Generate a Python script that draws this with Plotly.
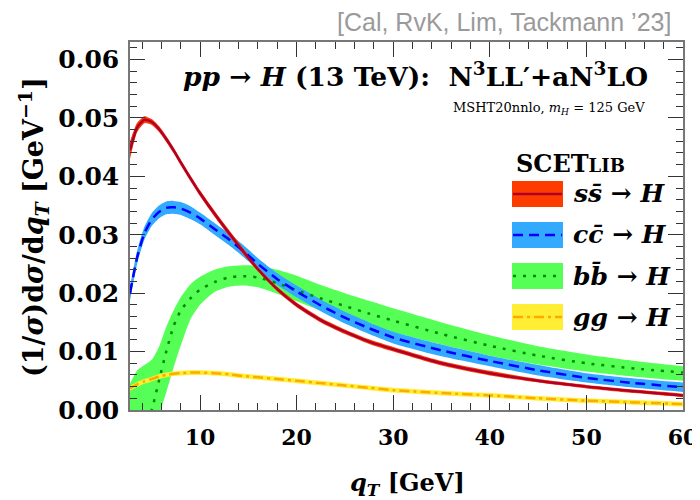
import plotly.graph_objects as go

# ---------------- data ----------------
qT = [2.75, 3.5, 4.25, 5, 5.75, 6.5, 7.25, 8, 9, 10, 11.5, 13, 14.5, 16, 18, 20,
      22.5, 25, 27.5, 30, 35, 40, 45, 50, 55, 60]

ss_c = [0.0445, 0.0484, 0.0497, 0.0493, 0.0481, 0.0464, 0.0445, 0.0424, 0.0397, 0.0371,
        0.0336, 0.0303, 0.0271, 0.0241, 0.0207, 0.0180, 0.0154, 0.0134, 0.0117, 0.0104,
        0.0080, 0.0063, 0.0050, 0.0040, 0.0032, 0.0025]
ss_lo = [0.0430, 0.0476, 0.0491, 0.0488, 0.0476, 0.0459, 0.0440, 0.0419, 0.0392, 0.0366,
         0.0331, 0.0298, 0.0266, 0.0237, 0.0203, 0.0176, 0.0150, 0.0130, 0.0113, 0.0100,
         0.0076, 0.0059, 0.0047, 0.0037, 0.0029, 0.0022]
ss_hi = [0.0460, 0.0492, 0.0503, 0.0498, 0.0486, 0.0469, 0.0450, 0.0429, 0.0402, 0.0376,
         0.0341, 0.0308, 0.0276, 0.0245, 0.0211, 0.0184, 0.0158, 0.0138, 0.0121, 0.0108,
         0.0084, 0.0067, 0.0053, 0.0043, 0.0035, 0.0028]

cc_c = [0.0200, 0.0262, 0.0303, 0.0326, 0.0339, 0.0346, 0.0347, 0.0345, 0.0338, 0.0328,
        0.0310, 0.0292, 0.0272, 0.0250, 0.0224, 0.0203, 0.0179, 0.0158, 0.0140, 0.0124,
        0.0102, 0.0084, 0.0068, 0.0055, 0.0046, 0.0039]
cc_lo = [0.0188, 0.0251, 0.0292, 0.0315, 0.0328, 0.0335, 0.0336, 0.0334, 0.0327, 0.0318,
         0.0300, 0.0282, 0.0262, 0.0240, 0.0214, 0.0193, 0.0169, 0.0148, 0.0130, 0.0114,
         0.0092, 0.0075, 0.0059, 0.0047, 0.0038, 0.0031]
cc_hi = [0.0212, 0.0273, 0.0314, 0.0337, 0.0350, 0.0357, 0.0358, 0.0356, 0.0349, 0.0338,
         0.0320, 0.0302, 0.0282, 0.0260, 0.0234, 0.0213, 0.0189, 0.0168, 0.0150, 0.0134,
         0.0112, 0.0093, 0.0077, 0.0063, 0.0054, 0.0047]

bb_c = [-0.0080, -0.0060, -0.0035, 0.0000, 0.0050, 0.0100, 0.0143, 0.0170, 0.0191, 0.0206,
        0.0219, 0.0227, 0.0229, 0.0227, 0.0217, 0.0205, 0.0191, 0.0178, 0.0165, 0.0153,
        0.0130, 0.0110, 0.0093, 0.0080, 0.0071, 0.0064]
bb_lo = [-0.0200, -0.0170, -0.0120, -0.0060, -0.0010, 0.0030, 0.0072, 0.0110, 0.0155, 0.0180,
         0.0202, 0.0211, 0.0213, 0.0210, 0.0199, 0.0186, 0.0170, 0.0156, 0.0143, 0.0133,
         0.0112, 0.0093, 0.0078, 0.0066, 0.0057, 0.0050]
bb_hi = [0.0045, 0.0068, 0.0077, 0.0086, 0.0108, 0.0142, 0.0170, 0.0193, 0.0215, 0.0228,
         0.0240, 0.0246, 0.0248, 0.0247, 0.0240, 0.0230, 0.0214, 0.0200, 0.0187, 0.0174,
         0.0150, 0.0128, 0.0109, 0.0095, 0.0084, 0.0075]

gg_c = [0.0037, 0.0044, 0.0049, 0.0053, 0.0057, 0.0060, 0.0062, 0.0063, 0.0064, 0.0064,
        0.0063, 0.0061, 0.0058, 0.0056, 0.0053, 0.0050, 0.0046, 0.0042, 0.0038, 0.0034,
        0.0029, 0.0025, 0.0020, 0.0016, 0.0013, 0.0010]
gg_lo = [0.0033, 0.0040, 0.0045, 0.0049, 0.0053, 0.0056, 0.0058, 0.0059, 0.0060, 0.0060,
         0.0059, 0.0057, 0.0054, 0.0052, 0.0049, 0.0046, 0.0042, 0.0038, 0.0034, 0.0030,
         0.0025, 0.0021, 0.0016, 0.0012, 0.0009, 0.0006]
gg_hi = [0.0041, 0.0048, 0.0053, 0.0057, 0.0061, 0.0064, 0.0066, 0.0067, 0.0068, 0.0068,
         0.0067, 0.0065, 0.0062, 0.0060, 0.0057, 0.0054, 0.0050, 0.0046, 0.0042, 0.0038,
         0.0033, 0.0029, 0.0024, 0.0020, 0.0017, 0.0014]

x_ticks = [10, 20, 30, 40, 50, 60]
y_ticks = [0.00, 0.01, 0.02, 0.03, 0.04, 0.05, 0.06]
x_range = [2.75, 60]
y_range = [0.0, 0.063]

series_labels = ["<b><i>s</i><i>s\u0304</i> \u2192 <i>H</i></b>",
                 "<b><i>c</i><i>c\u0304</i> \u2192 <i>H</i></b>",
                 "<b><i>b</i><i>b\u0304</i> \u2192 <i>H</i></b>",
                 "<b><i>gg</i> \u2192 <i>H</i></b>"]

# ---------------- styles ----------------
band_colors = ["#ff3c00", "#33aaff", "#55ff55", "#ffee33"]
line_colors = ["#b0002a", "#0000ff", "#008a00", "#ffaa00"]
line_dashes = ["solid", "10px,6px", "3px,7px", "10px,4px,3px,4px"]

SERIF = "DejaVu Serif"
OFF = 8                      # page body margin of the html page
W, H = 700, 500 - OFF
PL, PR, PT, PB = 130, 683, 42, 410      # target plot box on the page
ML, MT = PL - OFF, PT - OFF
MR = W - (PR - OFF)
MB = H - (PB - OFF)
PW, PH = PR - PL, PB - PT


def px(x):   # page pixel -> paper x
    return (x - PL) / PW


def py(y):   # page pixel -> paper y
    return (PB - y) / PH


fig = go.Figure()

data = [(ss_c, ss_lo, ss_hi), (cc_c, cc_lo, cc_hi), (bb_c, bb_lo, bb_hi), (gg_c, gg_lo, gg_hi)]
band_order = [2, 1, 0, 3]

for i in band_order:
    c, lo, hi = data[i]
    fig.add_trace(go.Scatter(x=qT, y=lo, mode="lines", line=dict(width=0, shape="spline", smoothing=0.6),
                             hoverinfo="skip", showlegend=False))
    fig.add_trace(go.Scatter(x=qT, y=hi, mode="lines", fill="tonexty", fillcolor=band_colors[i],
                             line=dict(width=0, shape="spline", smoothing=0.6),
                             hoverinfo="skip", showlegend=False))

for i in band_order:
    c, lo, hi = data[i]
    fig.add_trace(go.Scatter(x=qT, y=c, mode="lines",
                             line=dict(color=line_colors[i], width=2.5, dash=line_dashes[i],
                                       shape="spline", smoothing=0.6),
                             showlegend=False))

axis_common = dict(
    showline=True, linecolor="#777", linewidth=1.5, mirror="ticks",
    ticks="inside", ticklen=15, tickwidth=1.3, tickcolor="#333",
    showgrid=False, zeroline=False, automargin=False, ticklabeloverflow="allow",
)

fig.update_xaxes(range=x_range, tickvals=x_ticks, ticklabelstandoff=7,
                 tickfont=dict(family=SERIF, size=22, color="#000", weight="bold"),
                 minor=dict(dtick=2, tick0=0, ticks="inside", ticklen=7, tickcolor="#333", tickwidth=1.2),
                 **axis_common)
fig.update_yaxes(range=y_range, tickvals=y_ticks, tickformat=".2f", ticklabelstandoff=4,
                 tickfont=dict(family=SERIF, size=25, color="#000", weight="bold"),
                 minor=dict(dtick=0.002, tick0=0, ticks="inside", ticklen=7, tickcolor="#333", tickwidth=1.2),
                 **axis_common)

ann = []
# axis titles
ann.append(dict(x=px(33), y=py(227), xref="paper", yref="paper", textangle=-90,
                xanchor="center", yanchor="middle",
                text="<b>(1/<i>σ</i>)d<i>σ</i>/d<i>q</i><sub><i>T</i></sub> [GeV<sup>−1</sup>]</b>",
                showarrow=False, font=dict(family=SERIF, size=27, color="#000")))
ann.append(dict(x=px(407), y=py(484), xref="paper", yref="paper",
                xanchor="center", yanchor="middle",
                text="<b><i>q</i><sub><i>T</i></sub> [GeV]</b>",
                showarrow=False, font=dict(family=SERIF, size=24, color="#000")))
# in-plot titles
ann.append(dict(x=px(650), y=py(75), xref="paper", yref="paper", xanchor="right", yanchor="middle",
                text="<b><i>pp</i> \u2192 <i>H</i> (13 TeV):  N<sup>3</sup>LL\u2032+aN<sup>3</sup>LO</b>",
                showarrow=False, font=dict(family=SERIF, size=26.5, color="#000")))
ann.append(dict(x=px(647), y=py(108), xref="paper", yref="paper", xanchor="right", yanchor="middle",
                text="MSHT20nnlo, <i>m</i><sub><i>H</i></sub> = 125 GeV",
                showarrow=False, font=dict(family=SERIF, size=13, color="#000")))
ann.append(dict(x=px(673), y=py(22), xref="paper", yref="paper", xanchor="right", yanchor="middle",
                text="[Cal, RvK, Lim, Tackmann \u201923]",
                showarrow=False, font=dict(family="Liberation Sans", size=25, color="#9a9a9a")))
# legend heading
ann.append(dict(x=px(514), y=py(163), xref="paper", yref="paper", xanchor="left", yanchor="middle",
                text="<b>SCET<span style='font-size:18px'>LIB</span></b>",
                showarrow=False, font=dict(family=SERIF, size=24, color="#000")))

shapes = []
row_y = [194, 235, 276, 317]
for i in range(4):
    yc = row_y[i]
    shapes.append(dict(type="rect", xref="paper", yref="paper",
                       x0=px(512), x1=px(563), y0=py(yc + 13), y1=py(yc - 13),
                       fillcolor=band_colors[i], line=dict(width=0)))
    shapes.append(dict(type="line", xref="paper", yref="paper",
                       x0=px(513), x1=px(562), y0=py(yc), y1=py(yc),
                       line=dict(color=line_colors[i], width=2.5, dash=line_dashes[i])))
    ann.append(dict(x=px(571), y=py(yc), xref="paper", yref="paper", xanchor="left", yanchor="middle",
                    text=series_labels[i], showarrow=False,
                    font=dict(family=SERIF, size=25, color="#000")))

fig.update_layout(
    width=W, height=H, autosize=False,
    margin=dict(l=ML, r=MR, t=MT, b=MB),
    paper_bgcolor="white", plot_bgcolor="white",
    showlegend=False,
    annotations=ann, shapes=shapes,
)

fig.write_html("out.html")
